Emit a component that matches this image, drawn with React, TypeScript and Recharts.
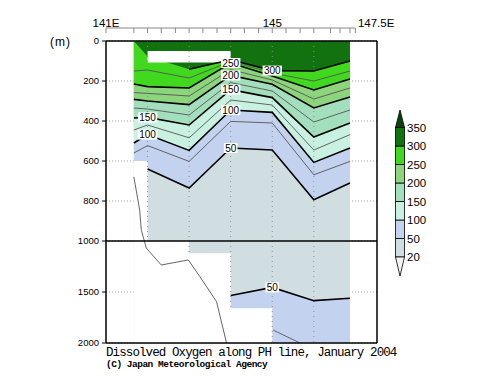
import React from 'react';
import {
  ComposedChart, Area, Line, XAxis, YAxis, CartesianGrid, ReferenceLine, LabelList, Legend,
} from 'recharts';

// stations along the PH line (deg E) and the depth (m) of each isoline there
const stations = [141.67, 142, 143, 144, 145, 146, 146.87];
const c300 = [0, 78, 141, 94, 148, 150, 100];
const c275 = [150, 145, 185, 102, 160, 200, 150];
const c250 = [215, 228, 235, 110, 175, 245, 190];
const c225 = [258, 262, 275, 143, 195, 290, 235];
const c200 = [292, 300, 318, 172, 216, 335, 280];
const c175 = [335, 340, 370, 208, 250, 405, 345];
const c150 = [385, 382, 420, 243, 283, 480, 410];
const c125 = [445, 420, 484, 295, 320, 545, 468];
const c100 = [510, 468, 547, 345, 357, 607, 535];
const c75 = [560, 523, 602, 402, 410, 669, 602];
const c50 = [640, 640, 735, 535, 545, 794, 710];
// deep 50 isoline, oxygen rises again below it
const deep50 = [null, null, null, 1535, 1455, 1585, 1562];
// deepest observation, held until the next station
const bottom = [600, 1000, 1120, 1660, 2000, 2000, 2000];
// missing data box near the surface
const gapLon = [142, 144];
const gapDepth = [50, 107];

// thin grey trace on the left / bottom right
const traceLon = [141.67, 141.81, 141.85, 141.97, 142.33, 142.98, 143.26, 143.66, 143.9];
const traceDepth = [679, 845, 946, 1070, 1235, 1186, 1350, 1595, 2000];
const trace2Lon = [145.02, 145.67];
const trace2Depth = [1873, 2000];

const barLevels = [20, 50, 100, 150, 200, 250, 300, 350];
// <20, 20-50, 50-100, ... , >350
const barColors = ['#f3f5f3', '#d1dee1', '#c3d2ee', '#c9f1e2', '#a4dfbd', '#8cd57c', '#40d91e', '#12720f', '#0a420a'];

const depthTicks = [0, 200, 400, 600, 800, 1000, 1500, 2000];
const topStations = [141, 141.67, 142, 142.33, 142.67, 143, 143.33, 143.67, 144, 144.33, 144.67, 145, 145.33, 145.67, 146, 146.4, 146.63, 146.87, 147];
const topLabelLon = [141, 145, 147.5];
const topLabels = ['141E', '145', '147.5E'];
const gridLon = [142, 143, 144, 145, 146];

// below 1000 m the depth axis is squeezed
const split = 1000;
const lowerScale = 0.51;
const toP = (d: number) => (d <= split ? d : split + (d - split) * lowerScale);
const fromP = (p: number) => (p <= split ? p : Math.round(split + (p - split) / lowerScale));
const yMax = toP(2000);
const yTicks = depthTicks.map(toP);

const contours: [number, number[]][] = [
  [300, c300], [275, c275], [250, c250], [225, c225], [200, c200], [175, c175],
  [150, c150], [125, c125], [100, c100], [75, c75], [50, c50],
];
const thick = [300, 250, 200, 150, 100, 50];
const thin = [275, 225, 175, 125, 75];
const labelAt: Record<number, number[]> = { 300: [145], 250: [144], 200: [144], 150: [144, 142], 100: [144, 142], 50: [144] };

const rows = stations.map((lon, i) => {
  const r: any = { lon, full: [0, yMax], bed: [toP(bottom[i]), yMax] };
  contours.forEach(([lv, arr]) => {
    const d = arr[i];
    const inGap = lon >= gapLon[0] && lon < gapLon[1] && d > gapDepth[0] && d < gapDepth[1];
    r['a' + lv] = toP(d);
    r['l' + lv] = d > bottom[i] || inGap ? null : toP(d);
  });
  const dd = deep50[i];
  r.deep = dd == null ? null : [toP(dd), yMax];
  r.deepLine = dd == null ? null : toP(dd);
  r.gap = lon >= gapLon[0] && lon <= gapLon[1] ? [toP(gapDepth[0]), toP(gapDepth[1])] : null;
  return r;
});
const trace = traceLon.map((lon, i) => ({ lon, t: toP(traceDepth[i]) }));
const trace2 = trace2Lon.map((lon, i) => ({ lon, t: toP(trace2Depth[i]) }));

const sans = '"Liberation Sans", Arial, sans-serif';

const contourLabel = (level: number, spots: number[]) => (props: any) => {
  const { x, y, index } = props;
  const row = rows[index];
  if (!row || !spots.includes(row.lon) || y == null) return null;
  const txt = String(level);
  const w = txt.length * 5.8 + 2;
  return (
    <g>
      <rect x={x - w / 2} y={y - 5} width={w} height={10} fill="#fff" />
      <text x={x} y={y + 3.6} textAnchor="middle" fontSize={10} fontFamily={sans} fill="#000">{txt}</text>
    </g>
  );
};

const TopTick = (props: any) => {
  const { x, y, payload } = props;
  const v = payload.value;
  const k = topLabelLon.indexOf(v);
  return (
    <g>
      {topStations.includes(v) && <line x1={x} x2={x} y1={y - 5} y2={y} stroke="#888" />}
      {k >= 0 && (
        <text x={x} y={y - 6.5} textAnchor="middle" fontSize={11.5} fontFamily={sans} fill="#000">{topLabels[k]}</text>
      )}
    </g>
  );
};

const ColorBar = () => {
  const bx = 7.5;
  const bw = 9;
  const step = 18.5;
  const yOf = (i: number) => 22.5 + (barLevels.length - 1 - i) * step;
  const cx = bx + bw / 2;
  return (
    <svg width={80} height={180}>
      <polygon points={`${bx},${yOf(7)} ${bx + bw},${yOf(7)} ${cx},5`} fill={barColors[8]} stroke="#000" strokeWidth={0.8} />
      {barLevels.slice(0, -1).map((lv, i) => (
        <rect key={lv} x={bx} y={yOf(i + 1)} width={bw} height={step} fill={barColors[i + 1]} stroke="#000" strokeWidth={0.8} />
      ))}
      <polygon points={`${bx},${yOf(0)} ${bx + bw},${yOf(0)} ${cx},171`} fill={barColors[0]} stroke="#000" strokeWidth={0.8} />
      {barLevels.map((lv, i) => (
        <text key={lv} x={19} y={yOf(i) + 4} fontSize={11.5} fontFamily={sans} fill="#000">{lv}</text>
      ))}
    </svg>
  );
};

const fills: [string, string][] = [
  ['a50', barColors[2]], ['a100', barColors[3]], ['a150', barColors[4]],
  ['a200', barColors[5]], ['a250', barColors[6]], ['a300', barColors[7]],
];

export default function App() {
  return (
    <div style={{ position: 'absolute', left: 0, top: 0, width: 500, height: 387, background: '#fff' }}>
      <ComposedChart width={500} height={387} data={rows} margin={{ top: 0, right: 122, bottom: 43, left: 0 }}>
        <CartesianGrid xAxisId="x" yAxisId="d" vertical={false} stroke="#a0a0a0" strokeDasharray="1 2" />
        <XAxis xAxisId="x" dataKey="lon" type="number" domain={[141, 147.52]} allowDataOverflow height={1}
          tick={false} tickLine={false} axisLine={{ stroke: '#000', strokeWidth: 1.5 }} />
        <XAxis xAxisId="top" dataKey="lon" orientation="top" type="number" domain={[141, 147.52]} allowDataOverflow
          ticks={[...topStations, 147.5]} interval={0} height={41} tickLine={false} tickSize={8} tickMargin={0}
          tick={<TopTick />} axisLine={{ stroke: '#000', strokeWidth: 1.5 }} />
        <YAxis yAxisId="d" type="number" domain={[0, yMax]} reversed allowDataOverflow ticks={yTicks} interval={0}
          tickFormatter={fromP} width={106} tickSize={4} tickMargin={3}
          tick={{ fontSize: 9.5, fill: '#000', fontFamily: sans }}
          tickLine={{ stroke: '#000' }} axisLine={{ stroke: '#000', strokeWidth: 1.5 }} />
        <YAxis yAxisId="r" orientation="right" type="number" domain={[0, yMax]} reversed allowDataOverflow width={1}
          tick={false} tickLine={false} axisLine={{ stroke: '#000', strokeWidth: 1.5 }} />

        <Area xAxisId="x" yAxisId="d" dataKey="full" type="linear" fill={barColors[1]} fillOpacity={1} stroke="none" isAnimationActive={false} />
        <Area xAxisId="x" yAxisId="d" dataKey="deep" type="linear" fill={barColors[2]} fillOpacity={1} stroke="none" isAnimationActive={false} />
        {fills.map(([k, c]) => (
          <Area key={k} xAxisId="x" yAxisId="d" dataKey={k} type="linear" baseValue={0} fill={c} fillOpacity={1} stroke="none" isAnimationActive={false} />
        ))}
        <Area xAxisId="x" yAxisId="d" dataKey="bed" type="stepAfter" fill="#fff" fillOpacity={1} stroke="none" isAnimationActive={false} />
        <Area xAxisId="x" yAxisId="d" dataKey="gap" type="linear" fill="#fff" fillOpacity={1} stroke="none" isAnimationActive={false} />

        {gridLon.map((lon) => (
          <ReferenceLine key={lon} xAxisId="x" yAxisId="d"
            segment={[{ x: lon, y: 0 }, { x: lon, y: toP(bottom[stations.indexOf(lon)]) }]}
            stroke="#8f8f8f" strokeDasharray="1 4" />
        ))}

        {thin.map((lv) => (
          <Line key={lv} xAxisId="x" yAxisId="d" dataKey={'l' + lv} type="linear" stroke="#555" strokeWidth={0.9}
            dot={false} activeDot={false} isAnimationActive={false} />
        ))}
        {thick.map((lv) => (
          <Line key={lv} xAxisId="x" yAxisId="d" dataKey={'l' + lv} type="linear" stroke="#000" strokeWidth={1.6}
            dot={false} activeDot={false} isAnimationActive={false}>
            <LabelList dataKey={'l' + lv} content={contourLabel(lv, labelAt[lv])} />
          </Line>
        ))}
        <Line xAxisId="x" yAxisId="d" dataKey="deepLine" type="linear" stroke="#000" strokeWidth={1.6}
          dot={false} activeDot={false} isAnimationActive={false}>
          <LabelList dataKey="deepLine" content={contourLabel(50, [145])} />
        </Line>
        <Line xAxisId="x" yAxisId="d" data={trace} dataKey="t" type="linear" stroke="#666" strokeWidth={1}
          dot={false} activeDot={false} isAnimationActive={false} />
        <Line xAxisId="x" yAxisId="d" data={trace2} dataKey="t" type="linear" stroke="#666" strokeWidth={1}
          dot={false} activeDot={false} isAnimationActive={false} />

        <ReferenceLine xAxisId="x" yAxisId="d" y={1000} stroke="#000" strokeWidth={1.6} />
        <ReferenceLine xAxisId="x" yAxisId="d" ifOverflow="visible"
          segment={[{ x: 141, y: -65 }, { x: 147, y: -65 }]} stroke="#888" />

        <Legend layout="horizontal" verticalAlign="middle" align="center" width={80} height={180}
          wrapperStyle={{ left: 388, top: 105, width: 80, height: 180 }} content={() => <ColorBar />} />
      </ComposedChart>
      <div style={{ position: 'absolute', left: 50, top: 35, fontSize: 12, fontFamily: sans, letterSpacing: 1 }}>(m)</div>
      <div style={{ position: 'absolute', left: 106, top: 347, fontSize: 12.5, lineHeight: '12px', letterSpacing: -0.9, fontFamily: '"Liberation Mono", monospace', whiteSpace: 'nowrap' }}>
        Dissolved Oxygen along PH line, January 2004
      </div>
      <div style={{ position: 'absolute', left: 106, top: 360, fontSize: 9.5, lineHeight: '10px', letterSpacing: -0.5, fontWeight: 'bold', fontFamily: '"Liberation Mono", monospace', whiteSpace: 'nowrap' }}>
        (C) Japan Meteorological Agency
      </div>
    </div>
  );
}
